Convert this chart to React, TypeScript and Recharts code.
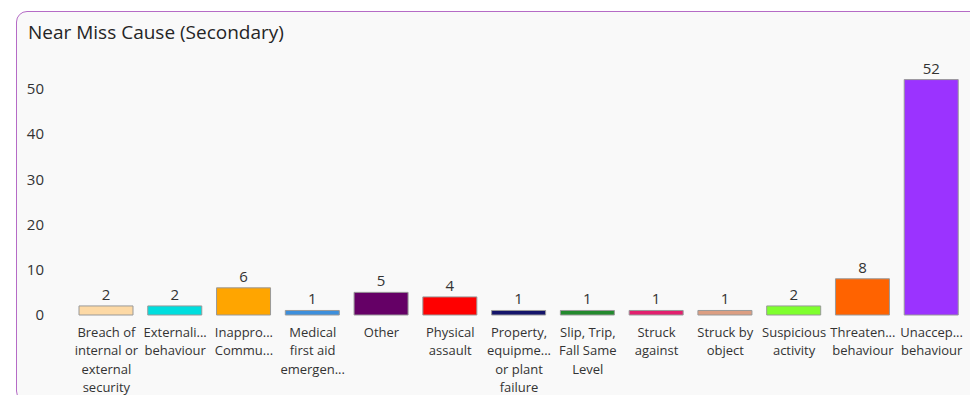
import React from "react";
import { BarChart, Bar, XAxis, YAxis, Cell, LabelList } from "recharts";

const categories = [
  "Breach of\ninternal or\nexternal\nsecurity",
  "Externali...\nbehaviour",
  "Inappro...\nCommu...",
  "Medical\nfirst aid\nemergen...",
  "Other",
  "Physical\nassault",
  "Property,\nequipme...\nor plant\nfailure",
  "Slip, Trip,\nFall Same\nLevel",
  "Struck\nagainst",
  "Struck by\nobject",
  "Suspicious\nactivity",
  "Threaten...\nbehaviour",
  "Unaccep...\nbehaviour",
];
const counts = [2, 2, 6, 1, 5, 4, 1, 1, 1, 1, 2, 8, 52];
const colors = [
  "#FDD9A5",
  "#00DEDE",
  "#FFA500",
  "#3D8FDC",
  "#650066",
  "#FF0000",
  "#14146A",
  "#238A2E",
  "#E2206E",
  "#DC9E82",
  "#7FFF2E",
  "#FF6300",
  "#9B33FF",
];
const yTicks = [0, 10, 20, 30, 40, 50];

const data = categories.map((c, i) => ({ name: c, value: counts[i] }));

const FONT = "'Open Sans', 'Noto Sans', sans-serif";

const CatTick = (props: any) => {
  const { x, y, payload } = props;
  const lines = String(payload.value).split("\n");
  return (
    <text x={x} y={y} textAnchor="middle" fill="#333" fontSize={13} fontFamily={FONT}>
      {lines.map((l: string, i: number) => (
        <tspan key={i} x={x} dy={i === 0 ? 14 : 18.3}>
          {l}
        </tspan>
      ))}
    </text>
  );
};

export default function App() {
  return (
    <div style={{ position: "relative", width: 978, height: 403, margin: -8, overflow: "hidden", background: "#fff" }}>
      <div style={{ position: "absolute", left: 0, top: 0, width: 5, height: 403, background: "#F4F4F4" }} />
      <div
        style={{
          position: "absolute",
          left: 16,
          top: 11,
          width: 980,
          height: 391,
          border: "1px solid #B56BC6",
          borderRadius: 11,
          background: "#F9F9F9",
          boxSizing: "border-box",
        }}
      />
      <div
        style={{
          position: "absolute",
          left: 28,
          top: 19,
          fontFamily: FONT,
          fontSize: 19,
          color: "#252525",
          whiteSpace: "nowrap",
        }}
      >
        Near Miss Cause (Secondary)
      </div>
      <div style={{ position: "absolute", left: 0, top: 0 }}>
        <BarChart
          width={978}
          height={403}
          data={data}
          margin={{ top: 66, right: 12, bottom: 0, left: 0 }}
          barSize={54}
        >
          <XAxis
            dataKey="name"
            axisLine={false}
            tickLine={false}
            interval={0}
            height={88}
            tick={<CatTick />}
          />
          <YAxis
            width={72}
            domain={[0, 55]}
            ticks={yTicks}
            axisLine={false}
            tickLine={false}
            tickSize={0}
            tickMargin={28}
            tick={{ fill: "#333", fontSize: 15, fontFamily: FONT }}
          />
          <Bar dataKey="value" stroke="#999" strokeWidth={1} isAnimationActive={false}>
            {data.map((d, i) => (
              <Cell key={i} fill={colors[i]} />
            ))}
            <LabelList
              dataKey="value"
              position="top"
              offset={6}
              fill="#333"
              fontSize={15}
              fontFamily={FONT}
            />
          </Bar>
        </BarChart>
      </div>
    </div>
  );
}
